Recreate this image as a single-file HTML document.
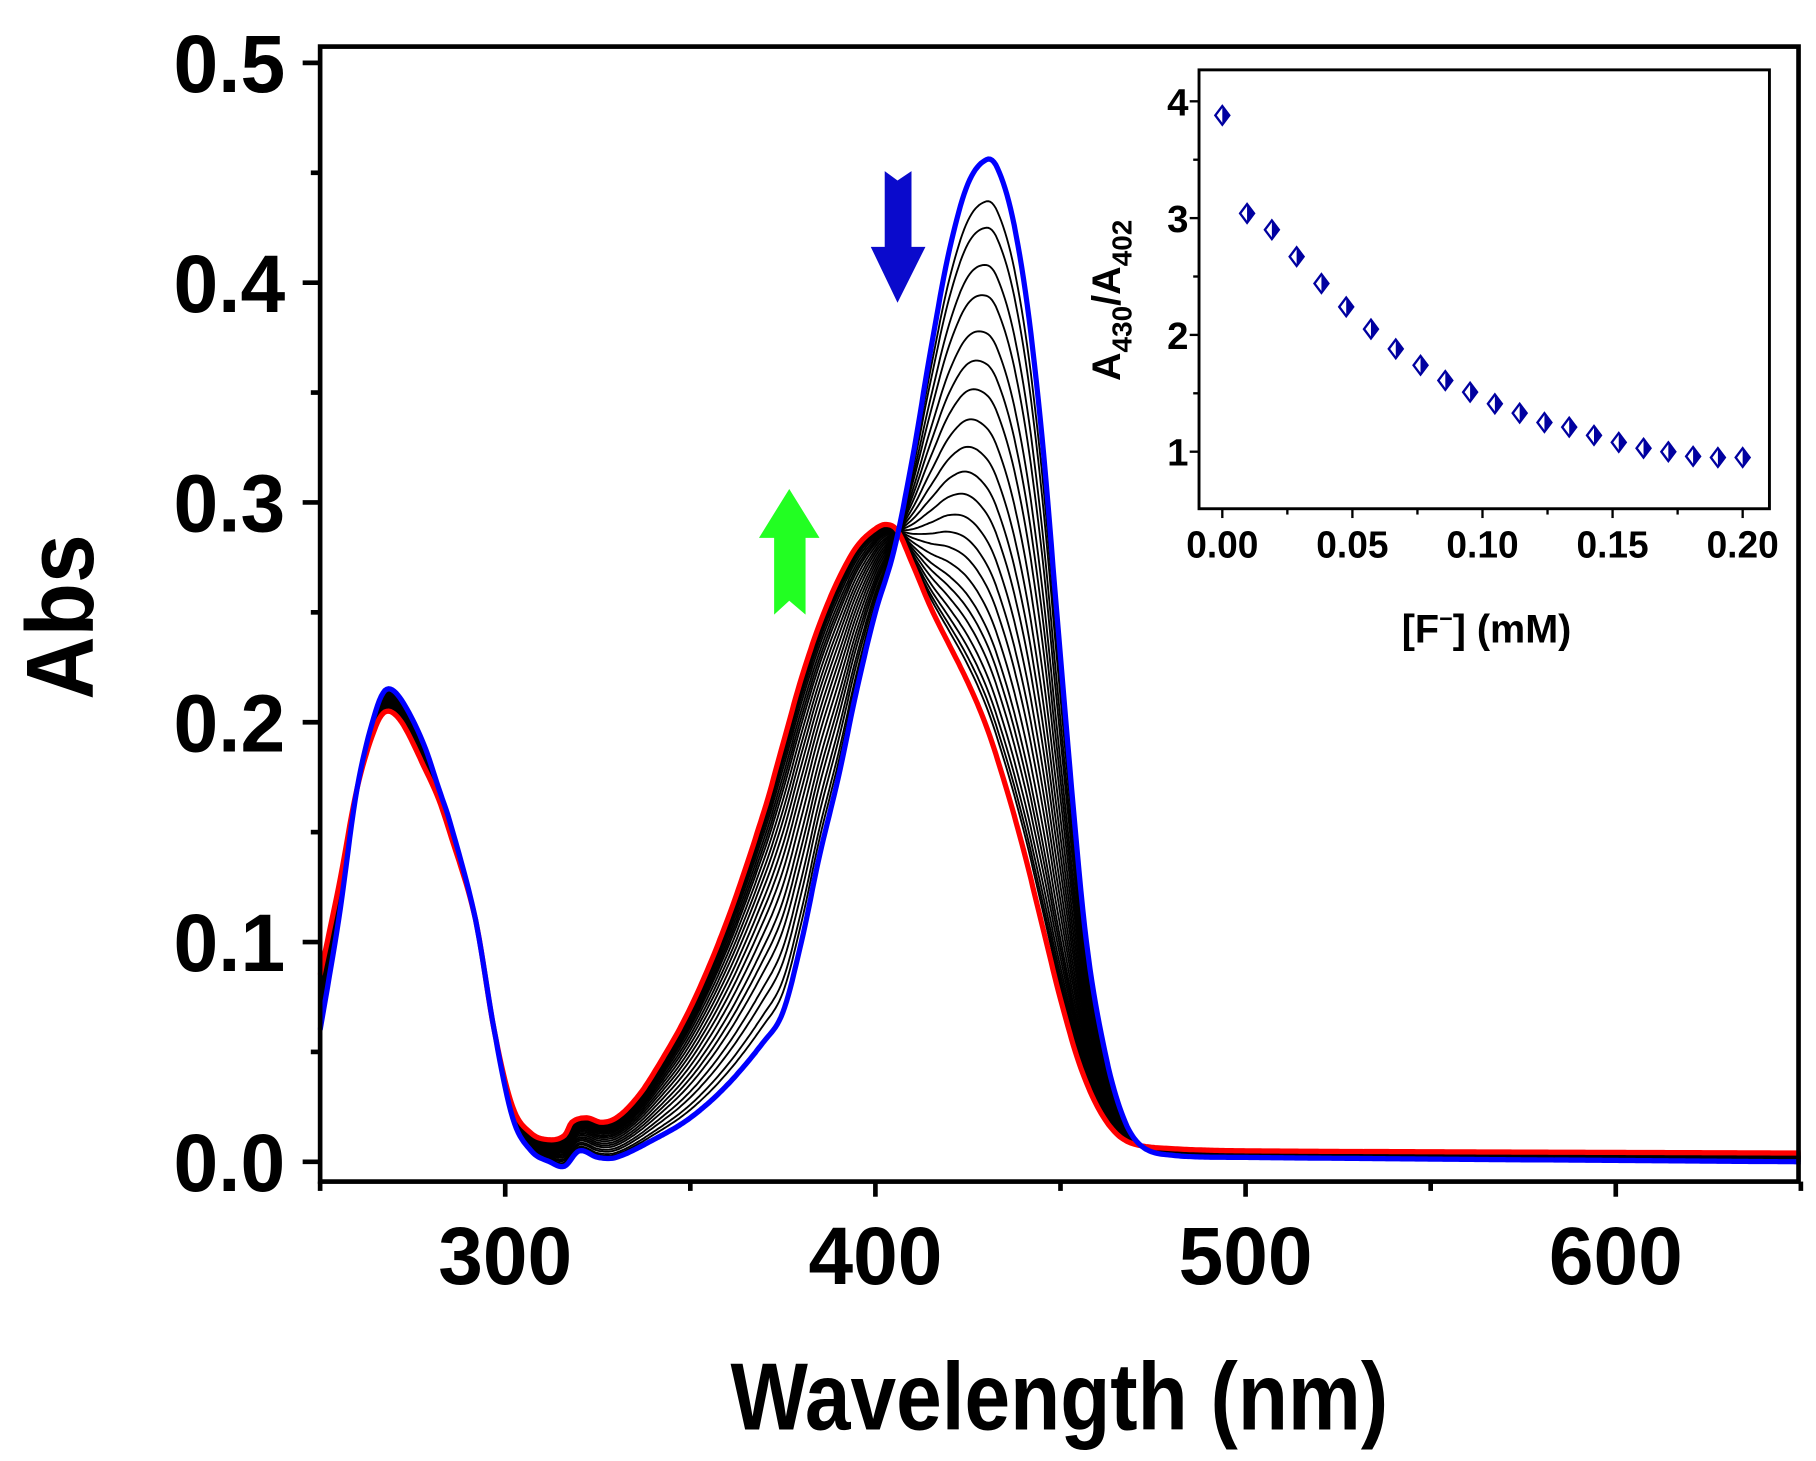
<!DOCTYPE html>
<html><head><meta charset="utf-8"><style>html,body{margin:0;padding:0;background:#fff}svg{display:block}text{font-family:"Liberation Sans",Arial,sans-serif;font-weight:bold}</style></head>
<body>
<svg id="chart" width="1816" height="1461" viewBox="0 0 1560 1255" xmlns="http://www.w3.org/2000/svg">
<g id="main"></g>
<g id="inset"></g>
</svg>
<script>
// Main spectra data
const blueWl = [250,255,260,265,268,272,278,282,285,292,297,302,307,312,316,320,325,330,340,350,360,370,375,380,385,390,395,400,405,410,415,420,425,430,433,437,441,445,449,453,457,462,467,472,480,500,650];
const blueAbs = [0.06,0.11,0.17,0.205,0.215,0.21,0.19,0.17,0.155,0.11,0.06,0.02,0.005,0.0,-0.002,0.005,0.002,0.002,0.01,0.02,0.035,0.055,0.068,0.1,0.14,0.175,0.215,0.25,0.278,0.32,0.37,0.415,0.445,0.456,0.452,0.43,0.39,0.33,0.25,0.17,0.1,0.05,0.02,0.007,0.003,0.002,0.0];
const redWl = [250,255,260,265,268,272,278,282,285,292,297,302,307,312,316,318,322,326,330,335,340,350,360,370,375,380,385,390,395,400,403,406,410,415,420,425,430,435,440,445,450,455,460,465,470,480,500,650];
const redAbs = [0.085,0.125,0.17,0.198,0.205,0.2,0.18,0.165,0.15,0.11,0.06,0.025,0.013,0.01,0.012,0.018,0.02,0.018,0.02,0.028,0.04,0.07,0.11,0.16,0.19,0.22,0.245,0.265,0.28,0.288,0.29,0.287,0.272,0.252,0.235,0.218,0.198,0.172,0.142,0.108,0.074,0.045,0.025,0.013,0.008,0.006,0.005,0.004];
const peakHeights = [0.437,0.425,0.408,0.394,0.377,0.363,0.349,0.334,0.320,0.307,0.295,0.283,0.272,0.262,0.252,0.243,0.236,0.229,0.222,0.216,0.211,0.207];
const xTicks = [300,400,500,600];
const yTicks = [0.0,0.1,0.2,0.3,0.4,0.5];
// Inset data
const insetConc = [0,0.00952,0.01905,0.02857,0.0381,0.04762,0.05714,0.06667,0.07619,0.08571,0.09524,0.10476,0.11429,0.12381,0.13333,0.14286,0.15238,0.1619,0.17143,0.18095,0.19048,0.2];
const insetRatio = [3.88,3.04,2.90,2.67,2.44,2.24,2.05,1.88,1.74,1.61,1.51,1.41,1.33,1.25,1.21,1.14,1.08,1.03,1.00,0.96,0.95,0.95];
const insetXTicks = [0.00,0.05,0.10,0.15,0.20];
const insetYTicks = [1,2,3,4];

const NS="http://www.w3.org/2000/svg";
function mk(p,tag,attrs){const e=document.createElementNS(NS,tag);for(const k in attrs)e.setAttribute(k,attrs[k]);p.appendChild(e);return e;}
const main=document.getElementById('main'), inset=document.getElementById('inset');
const X=w=>275+(w-250)*3.18, Y=a=>998-a*1888;
function interp(wl,ab,w){
  const n=wl.length;
  if(w<=wl[0])return ab[0];
  if(w>=wl[n-1])return ab[n-1];
  let i=1;while(w>wl[i])i++;
  const x0=wl[i-1],x1=wl[i],y0=ab[i-1],y1=ab[i],h=x1-x0,t=(w-x0)/h;
  const m0=i-2>=0?(y1-ab[i-2])/(x1-wl[i-2]):(y1-y0)/h;
  const m1=i+1<n?(ab[i+1]-y0)/(wl[i+1]-x0):(y1-y0)/h;
  const t2=t*t,t3=t2*t;
  return (2*t3-3*t2+1)*y0+(t3-2*t2+t)*h*m0+(-2*t3+3*t2)*y1+(t3-t2)*h*m1;
}
const grid=[];for(let w=250;w<=650;w+=0.5)grid.push(w);
function pathFor(f){return grid.map((w,i)=>(i?'L':'M')+X(w).toFixed(1)+','+Y(f(w)).toFixed(1)).join('');}
const bPeak=0.456,rPeak=0.198;
peakHeights.forEach((h,i)=>{
  const t=(bPeak-h)/(bPeak-rPeak);
  const p=mk(main,'path',{d:pathFor(w=>(1-t)*interp(blueWl,blueAbs,w)+t*interp(redWl,redAbs,w)),fill:'none',stroke:'#000','stroke-width':1.6});
  
  
});
const rp=mk(main,'path',{d:pathFor(w=>interp(redWl,redAbs,w)),fill:'none',stroke:'#f00','stroke-width':4.5});


const bp=mk(main,'path',{d:pathFor(w=>interp(blueWl,blueAbs,w)),fill:'none',stroke:'#0000ff','stroke-width':4.5});


mk(main,'rect',{x:0,y:0,width:273,height:1255,fill:'#fff'});
mk(main,'rect',{x:1547,y:0,width:20,height:1255,fill:'#fff'});
const fr=mk(main,'rect',{x:275,y:40,width:1270,height:975,fill:'none',stroke:'#000','stroke-width':4});


for(let v=0;v<=0.5001;v+=0.05){const maj=Math.abs(v*10-Math.round(v*10))<1e-6;mk(main,'line',{x1:maj?260:267,x2:275,y1:Y(v),y2:Y(v),stroke:'#000','stroke-width':4});}
yTicks.forEach(v=>{const t=mk(main,'text',{x:245,y:Y(v)+25,'text-anchor':'end','font-size':70,textLength:96,lengthAdjust:'spacingAndGlyphs'});t.textContent=v.toFixed(1);

});
for(let w=250;w<=650;w+=50){const maj=w%100===0;mk(main,'line',{x1:X(w),x2:X(w),y1:1015,y2:maj?1028:1023,stroke:'#000','stroke-width':4});}
xTicks.forEach(w=>{const t=mk(main,'text',{x:X(w),y:1103,'text-anchor':'middle','font-size':70,textLength:115,lengthAdjust:'spacingAndGlyphs'});t.textContent=w;

});
const ba=mk(main,'path',{d:'M760,147 L771,155 L783,147 L783,212 L795,212 L771,260 L748,212 L760,212 Z',fill:'#0a0acc'});


const ga=mk(main,'path',{d:'M665,528 L678,516 L692,528 L692,462 L704,462 L678,420 L652,462 L665,462 Z',fill:'#22ff22'});



const IX=c=>1050+c*2235, IY=v=>388-(v-1)*100.33;
mk(inset,'rect',{x:1030,y:60,width:490,height:377,fill:'#fff',stroke:'#000','stroke-width':2.5});
for(let v=1;v<=4.001;v+=0.5){const maj=Math.abs(v-Math.round(v))<1e-6;mk(inset,'line',{x1:maj?1022:1025,x2:1030,y1:IY(v),y2:IY(v),stroke:'#000','stroke-width':2});}
insetYTicks.forEach(v=>{const t=mk(inset,'text',{x:1021,y:IY(v)+12,'text-anchor':'end','font-size':33});t.textContent=v;

});
for(let c=0;c<=0.2001;c+=0.025){const maj=Math.abs(c*20-Math.round(c*20))<1e-6;mk(inset,'line',{x1:IX(c),x2:IX(c),y1:437,y2:maj?445:442,stroke:'#000','stroke-width':2});}
insetXTicks.forEach(c=>{const t=mk(inset,'text',{x:IX(c),y:479,'text-anchor':'middle','font-size':33,textLength:62,lengthAdjust:'spacingAndGlyphs'});t.textContent=c.toFixed(2);

});
insetConc.forEach((c,i)=>{
  const cx=IX(c),cy=IY(insetRatio[i]),r=8;
  const g=mk(inset,'g',{});
  
  
  mk(g,'path',{d:`M${cx},${cy-r} L${cx+r*0.75},${cy} L${cx},${cy+r} Z`,fill:'#0000a0'});
  mk(g,'path',{d:`M${cx},${cy-r} L${cx+r*0.75},${cy} L${cx},${cy+r} L${cx-r*0.75},${cy} Z`,fill:'none',stroke:'#0000a0','stroke-width':2});
});
const xl=mk(inset,'text',{x:1277,y:552,'text-anchor':'middle','font-size':34});
xl.innerHTML='[F<tspan font-size="20" dy="-14">−</tspan><tspan dy="14">] (mM)</tspan>';


const yl=mk(inset,'text',{x:0,y:0,'text-anchor':'middle','font-size':34,transform:'translate(962,258) rotate(-90)'});
yl.innerHTML='A<tspan font-size="24" dy="10">430</tspan><tspan dy="-10">/A</tspan><tspan font-size="24" dy="10">402</tspan>';



const xt=mk(main,'text',{x:910,y:1228,'text-anchor':'middle','font-size':82,textLength:565,lengthAdjust:'spacingAndGlyphs'});xt.textContent='Wavelength (nm)';


const yt=mk(main,'text',{x:0,y:0,'text-anchor':'middle','font-size':82,textLength:142,lengthAdjust:'spacingAndGlyphs',transform:'translate(80,530) rotate(-90)'});yt.textContent='Abs';


</script>
</body></html>
